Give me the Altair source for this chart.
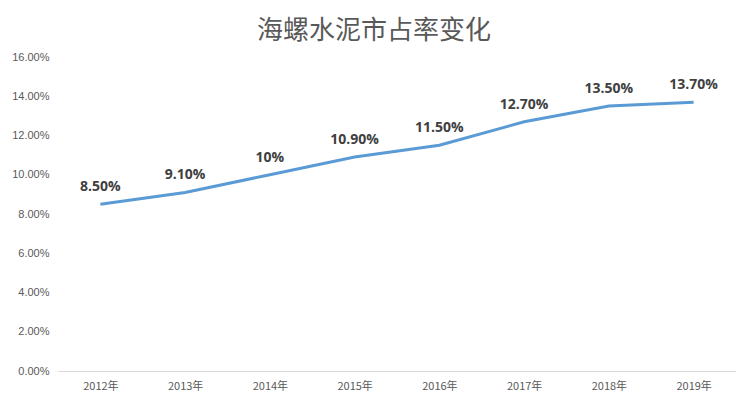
import altair as alt
import pandas as pd

years = ["2012年", "2013年", "2014年", "2015年", "2016年", "2017年", "2018年", "2019年"]
share = [0.085, 0.091, 0.100, 0.109, 0.115, 0.127, 0.135, 0.137]
labels = ["8.50%", "9.10%", "10%", "10.90%", "11.50%", "12.70%", "13.50%", "13.70%"]

df = pd.DataFrame({"year": years, "share": share, "label": labels})

x = alt.X("year:N", sort=years, title=None,
          scale=alt.Scale(paddingOuter=0.5, paddingInner=0),
          axis=alt.Axis(labelAngle=0, ticks=False, domainColor="#d9d9d9", domainWidth=1,
                        labelColor="#595959", labelFontSize=11, labelPadding=9,
                        labelFont="Noto Sans CJK SC"))
y = alt.Y("share:Q", title=None,
          scale=alt.Scale(domain=[0, 0.16], nice=False),
          axis=alt.Axis(format=".2%", values=[0, 0.02, 0.04, 0.06, 0.08, 0.10, 0.12, 0.14, 0.16],
                        domain=False, ticks=False, grid=False, labelColor="#595959",
                        labelFontSize=11, labelPadding=9, labelFont="Liberation Sans"))

line = alt.Chart(df).mark_line(color="#5b9bd5", strokeWidth=3).encode(x=x, y=y)
text = alt.Chart(df).mark_text(dy=-17, fontSize=14, fontWeight="bold", color="#404040",
                               font="Open Sans").encode(x=x, y=y, text="label:N")

chart = (line + text).properties(
    width=678, height=314,
    padding={"left": 50, "top": 49, "right": 0, "bottom": 21},
    autosize=alt.AutoSizeParams(type="none"),
    title=alt.TitleParams("海螺水泥市占率变化", fontSize=26, font="Noto Sans CJK SC",
                          fontWeight="normal", color="#595959", anchor="middle", dx=-23, offset=7),
).configure_view(stroke=None)

chart.save("out.html", embed_options={"renderer": "svg", "actions": False})
